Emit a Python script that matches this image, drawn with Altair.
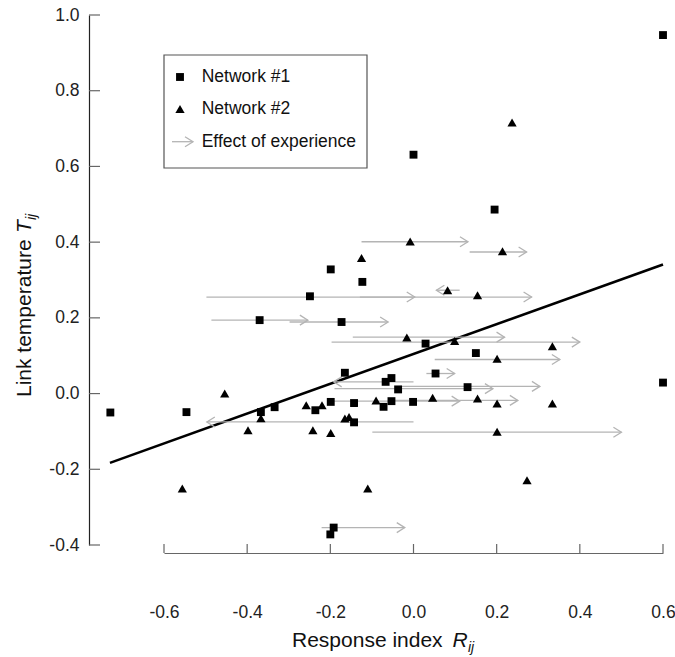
import altair as alt
import pandas as pd

# ---- data ----
net1_x = [0.600, 0.000, 0.195, -0.199, -0.123, -0.249, -0.370, -0.173, 0.029, 0.150,
          0.053, -0.165, 0.600, -0.067, -0.053, -0.037, 0.130, -0.729, -0.546, -0.367,
          -0.334, -0.236, -0.199, -0.143, -0.072, -0.053, -0.001, -0.143, -0.192, -0.200]
net1_y = [0.947, 0.631, 0.486, 0.328, 0.295, 0.257, 0.194, 0.189, 0.132, 0.107,
          0.053, 0.055, 0.029, 0.031, 0.041, 0.011, 0.017, -0.050, -0.049, -0.049,
          -0.036, -0.044, -0.022, -0.025, -0.035, -0.020, -0.022, -0.076, -0.354, -0.372]

net2_x = [0.237, -0.008, 0.214, -0.125, 0.082, 0.154, -0.016, 0.099, 0.334, 0.201,
          -0.454, -0.258, -0.220, -0.090, 0.046, 0.154, 0.201, 0.334, -0.367, -0.165,
          -0.155, -0.398, -0.242, -0.199, 0.201, -0.556, -0.110, 0.273]
net2_y = [0.716, 0.402, 0.376, 0.358, 0.273, 0.260, 0.148, 0.139, 0.125, 0.092,
          0.000, -0.031, -0.031, -0.018, -0.011, -0.013, -0.026, -0.026, -0.065, -0.066,
          -0.062, -0.097, -0.097, -0.104, -0.101, -0.251, -0.251, -0.229]

arrow_start = [-0.125, 0.135, -0.498, -0.129, 0.111, -0.486, -0.298, -0.146, -0.197, 0.051,
               0.031, 0.000, -0.190, -0.033, -0.194, -0.057, 0.000, -0.099, -0.221]
arrow_end = [0.131, 0.272, 0.003, 0.284, 0.055, -0.254, -0.061, 0.219, 0.400, 0.352,
             0.099, -0.192, 0.191, 0.304, 0.111, 0.251, -0.497, 0.500, -0.021]
arrow_y = [0.401, 0.374, 0.255, 0.255, 0.273, 0.194, 0.189, 0.149, 0.136, 0.090,
           0.053, 0.031, 0.013, 0.019, -0.020, -0.018, -0.075, -0.102, -0.354]

fit_x = [-0.73, 0.60]
fit_y = [-0.183, 0.341]

x_ticks = [-0.6, -0.4, -0.2, 0.0, 0.2, 0.4, 0.6]
y_ticks = [-0.4, -0.2, 0.0, 0.2, 0.4, 0.6, 0.8, 1.0]

legend_labels = ["Network #1", "Network #2", "Effect of experience"]

# ---- build tables ----
FONT = "Liberation Sans"
GREY = "#b4b4b4"
RIGHT_HEAD = "M-1.6,-1L0,0L-1.6,1"
LEFT_HEAD = "M1.6,-1L0,0L1.6,1"
HYPHEN_EXPR = "replace(datum.label, '\u2212', '-')"

df1 = pd.DataFrame({"x": net1_x, "y": net1_y})
df2 = pd.DataFrame({"x": net2_x, "y": net2_y})
dfa = pd.DataFrame({"x": arrow_start, "x2": arrow_end, "y": arrow_y})
dfa["dir"] = ["right" if e > s else "left" for s, e in zip(arrow_start, arrow_end)]
dfl = pd.DataFrame({"x": fit_x, "y": fit_y})
dxt = pd.DataFrame({"v": x_ticks})
dyt = pd.DataFrame({"v": y_ticks})
one = pd.DataFrame({"a": [0]})

xs = alt.Scale(domain=[-0.6, 0.6], nice=False, zero=False)
ys = alt.Scale(domain=[-0.4, 1.0], nice=False, zero=False)

x_axis = alt.Axis(values=x_ticks, format=".1f", labelExpr=HYPHEN_EXPR, offset=8,
                  labelFlush=False, labelOverlap=False,
                  ticks=False, tickSize=0, grid=False, domainColor="#666666", domainWidth=1.2,
                  labelFont=FONT, labelFontSize=17.5, labelColor="#222222",
                  labelPadding=50, title=None)
y_axis = alt.Axis(values=y_ticks, format=".1f", labelExpr=HYPHEN_EXPR, offset=75,
                  labelFlush=False, labelOverlap=False,
                  ticks=False, tickSize=0, grid=False, domainColor="#222222", domainWidth=1.2,
                  labelFont=FONT, labelFontSize=17.5, labelColor="#222222",
                  labelPadding=10, title=None)

base_axes = alt.Chart(dfl).mark_line(color="black", strokeWidth=2.6).encode(
    x=alt.X("x:Q", scale=xs, axis=x_axis),
    y=alt.Y("y:Q", scale=ys, axis=y_axis),
)

arrows = alt.Chart(dfa).mark_rule(color=GREY, strokeWidth=1.3).encode(
    x="x:Q", x2="x2:Q", y="y:Q"
)
heads = alt.Chart(dfa).mark_point(filled=False, color=GREY, strokeWidth=1.3, size=100, opacity=1).encode(
    x="x2:Q", y="y:Q",
    shape=alt.Shape("dir:N", scale=alt.Scale(domain=["right", "left"], range=[RIGHT_HEAD, LEFT_HEAD]), legend=None),
)

squares = alt.Chart(df1).mark_point(shape="square", filled=True, color="black", size=62, opacity=1).encode(
    x="x:Q", y="y:Q"
)
triangles = alt.Chart(df2).mark_point(shape="triangle-up", filled=True, color="black", size=85, opacity=1).encode(
    x="x:Q", y="y:Q"
)

# inward ticks
xtick_marks = alt.Chart(dxt).mark_rule(color="#666666", strokeWidth=1.2).encode(
    x="v:Q", y=alt.value(538), y2=alt.value(529)
)
ytick_marks = alt.Chart(dyt).mark_rule(color="#666666", strokeWidth=1.2).encode(
    y="v:Q", x=alt.value(-75), x2=alt.value(-64)
)

# legend (drawn by hand)
leg_box = alt.Chart(one).mark_rect(fill="white", stroke="#555555", strokeWidth=1.2).encode(
    x=alt.value(0), x2=alt.value(203), y=alt.value(40), y2=alt.value(153)
)
leg_sq = alt.Chart(one).mark_point(shape="square", filled=True, color="black", size=62, opacity=1).encode(
    x=alt.value(16), y=alt.value(62)
)
leg_tri = alt.Chart(one).mark_point(shape="triangle-up", filled=True, color="black", size=85, opacity=1).encode(
    x=alt.value(16), y=alt.value(94)
)
leg_line = alt.Chart(one).mark_rule(color=GREY, strokeWidth=1.3).encode(
    x=alt.value(8), x2=alt.value(29), y=alt.value(126.7)
)
leg_head = alt.Chart(one).mark_point(shape=RIGHT_HEAD, filled=False, color=GREY, strokeWidth=1.3, size=100, opacity=1).encode(
    x=alt.value(29), y=alt.value(126.7)
)
leg_text = [
    alt.Chart(pd.DataFrame({"t": [lab]})).mark_text(
        font=FONT, fontSize=17.5, align="left", baseline="middle", color="#111111"
    ).encode(text="t:N", x=alt.value(37.7), y=alt.value(yy))
    for lab, yy in zip(legend_labels, [62, 94, 126.7])
]

# axis titles with italic subscripts
def txt(s, x, y, size=21, style="normal", angle=0, align="left"):
    kw = dict(font=FONT, fontSize=size, align=align, baseline="alphabetic", color="#111111",
              fontStyle=style)
    if angle:
        kw["angle"] = angle
    return alt.Chart(pd.DataFrame({"t": [s]})).mark_text(**kw).encode(
        text="t:N", x=alt.value(x), y=alt.value(y))

xt0 = 128
xtitle = [
    txt("Response index", xt0, 632),
    txt("R", xt0 + 160.5, 632, style="italic"),
    txt("ij", xt0 + 176, 637, size=14, style="italic"),
]
yt0 = 382
ytitle = [
    txt("Link temperature", -133, yt0, angle=270),
    txt("T", -133, yt0 - 164, style="italic", angle=270),
    txt("ij", -128, yt0 - 177, size=14, style="italic", angle=270),
]

chart = alt.layer(
    base_axes, arrows, heads, squares, triangles, xtick_marks, ytick_marks,
    leg_box, leg_sq, leg_tri, leg_line, leg_head, *leg_text, *xtitle, *ytitle
).properties(
    width=499, height=530,
    autosize=alt.AutoSizeParams(type="none"),
    padding={"left": 164, "top": 15, "right": 12, "bottom": 112},
).configure_view(stroke=None)

chart.save("out.html", embed_options={"renderer": "svg", "actions": False})
